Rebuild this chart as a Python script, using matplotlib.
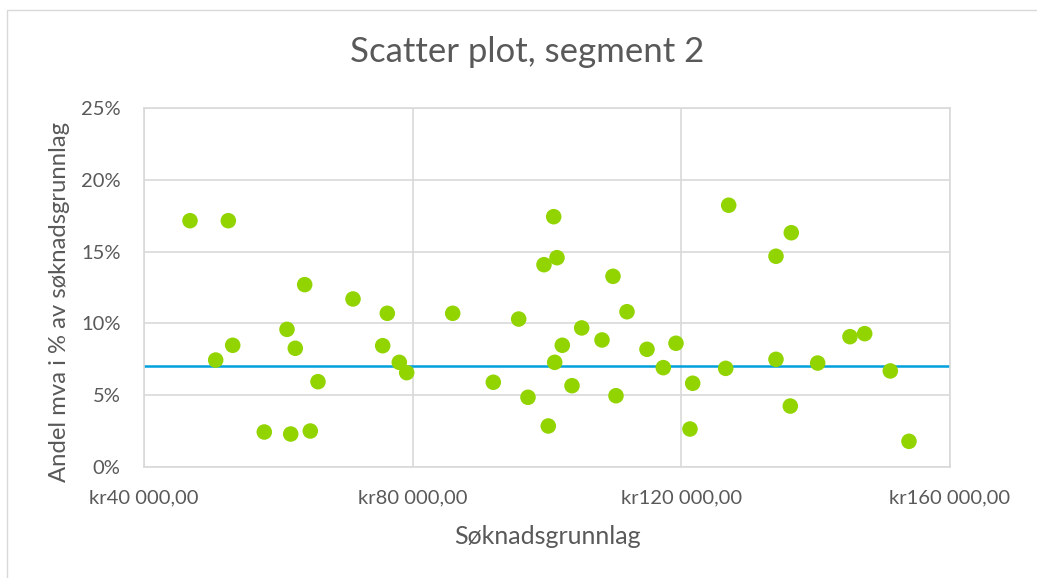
import matplotlib.pyplot as plt
from matplotlib.patches import Rectangle
from matplotlib.ticker import FuncFormatter

# data (søknadsgrunnlag in kr, andel mva in %)
grunnlag = [46849, 52553, 50672, 53205, 63923, 61290, 62526, 65905, 57911, 61841,
            64759, 71116, 76224, 75537, 78010, 79111, 85959, 92005, 95785, 97170,
            99552, 100996, 101487, 100192, 101145, 102277, 103720, 105165, 108187, 109825,
            110271, 111909, 114887, 117315, 119204, 121690, 121288, 127050, 126604, 134092,
            136370, 134092, 136222, 140300, 145109, 147298, 151110, 153893]
andel = [17.16, 17.16, 7.44, 8.47, 12.70, 9.58, 8.26, 5.93, 2.42, 2.28,
         2.49, 11.70, 10.70, 8.44, 7.28, 6.56, 10.70, 5.89, 10.30, 4.84,
         14.09, 17.44, 14.58, 2.84, 7.28, 8.47, 5.65, 9.68, 8.84, 13.28,
         4.95, 10.81, 8.19, 6.91, 8.61, 5.82, 2.63, 18.24, 6.86, 14.68,
         16.32, 7.49, 4.23, 7.23, 9.07, 9.28, 6.68, 1.77]
snitt = 7.0

x_ticks = [40000, 80000, 120000, 160000]
y_ticks = [0, 5, 10, 15, 20, 25]

grey_text = '#595959'
plt.rcParams['font.family'] = ['Lato', 'DejaVu Sans']

fig = plt.figure(figsize=(10.37, 5.78), dpi=100)
# outer chart frame
fig.patches.append(Rectangle((7 / 1037, -0.05), 1.1, (578 - 10) / 578 + 0.05,
                             transform=fig.transFigure, fill=False,
                             edgecolor='#D9D9D9', linewidth=1))

ax = fig.add_axes([144 / 1037, (578 - 466.7) / 578, (950 - 144) / 1037, (466.7 - 108.3) / 578])

ax.axhline(snitt, color='#00A0DC', linewidth=1.8, zorder=2)
ax.scatter(grunnlag, andel, s=125, color='#92D400', edgecolors='none', zorder=3)

ax.set_xlim(40000, 160000)
ax.set_ylim(0, 25)
ax.set_xticks(x_ticks)
ax.set_yticks(y_ticks)


def kr_fmt(v, pos):
    s = f"{int(v):,}".replace(',', ' ')
    return f"kr{s},00"


ax.xaxis.set_major_formatter(FuncFormatter(kr_fmt))
ax.yaxis.set_major_formatter(FuncFormatter(lambda v, p: f"{int(v)}%"))

ax.grid(True, color='#D9D9D9', linewidth=1.2)
ax.set_axisbelow(True)
for sp in ax.spines.values():
    sp.set_color('#D9D9D9')
    sp.set_linewidth(1.2)

ax.tick_params(axis='both', length=0, labelsize=14.5, colors=grey_text)
ax.tick_params(axis='x', pad=16)
ax.tick_params(axis='y', pad=17)

fig.text(527.5 / 1037, 1 - 52 / 578, "Scatter plot, segment 2", fontsize=25,
         color=grey_text, ha='center', va='center')
ax.set_xlabel("Søknadsgrunnlag", fontsize=18, color=grey_text, labelpad=14)
ax.set_ylabel("Andel mva i % av søknadsgrunnlag", fontsize=17.2, color=grey_text)
ax.yaxis.set_label_coords(-0.092, 0.46)

fig.savefig('out.png', dpi=100)
